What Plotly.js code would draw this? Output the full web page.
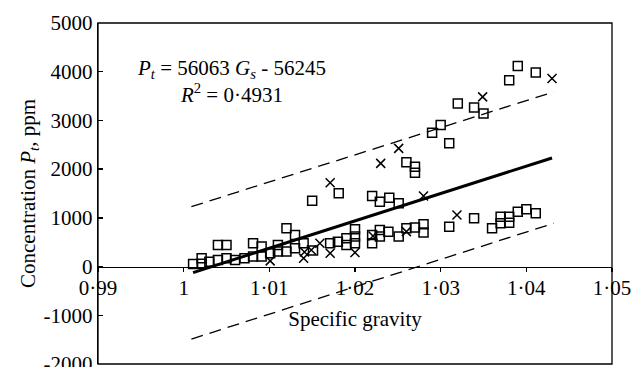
<!DOCTYPE html>
<html>
<head>
<meta charset="utf-8">
<script src="https://cdn.plot.ly/plotly-3.0.1.min.js"></script>
<style>html,body{margin:0;padding:0;background:#fff;}#chart{width:637px;height:367px;}</style>
</head>
<body>
<div id="chart"></div>
<script>
// Open squares
const squareX = [1.0011,1.0021,1.0021,1.0030,1.0040,1.0050,1.0040,1.0050,1.0060,1.0071,
  1.0081,1.0081,1.0091,1.0091,1.0101,1.0110,1.0110,1.0120,1.0120,1.0130,
  1.0130,1.0140,1.0151,1.0171,1.0180,1.0190,1.0190,1.0200,1.0200,1.0200,
  1.0220,1.0220,1.0229,1.0229,1.0239,1.0251,1.0260,1.0270,1.0280,1.0280,
  1.0310,1.0339,1.0360,1.0370,1.0370,1.0380,1.0380,1.0390,1.0400,1.0411,
  1.0150,1.0181,1.0220,1.0229,1.0240,1.0251,1.0260,1.0270,1.0270,
  1.0290,1.0300,1.0310,1.0320,1.0339,1.0350,1.0380,1.0390,1.0411];
const squareY = [55,172,60,100,445,445,137,172,137,172,
  480,205,410,205,275,445,307,787,307,650,
  377,480,330,480,512,582,445,766,615,480,
  650,480,752,615,717,615,787,800,869,697,
  820,992,787,1025,889,1025,902,1127,1176,1094,
  1352,1504,1449,1332,1414,1299,2139,2049,1926,
  2746,2904,2529,3348,3266,3143,3826,4119,3984];
// Crosses
const crossX = [1.0101,1.0140,1.0141,1.0149,1.0159,1.0171,1.0200,1.0221,1.0260,
  1.0171,1.0230,1.0251,1.0280,1.0319,1.0349,1.0430];
const crossY = [117,172,300,342,480,275,287,629,717,
  1721,2119,2426,1449,1059,3484,3861];
// Regression line and bands (end points)
const fitX = [1.0011, 1.0430];
const fitY = [-123, 2229];
const bandX = [1.0009, 1.0432];
const upperY = [1230, 3586];
const lowerY = [-1488, 889];
// Tick labels
const xTickVals = [0.99,1.00,1.01,1.02,1.03,1.04,1.05];
const xTickText = ['0·99','1','1·01','1·02','1·03','1·04','1·05'];
const yTickVals = [-2000,-1000,0,1000,2000,3000,4000,5000];
const yTickText = ['-2000','-1000','0','1000','2000','3000','4000','5000'];

const FONT = 'Liberation Serif';
const F = {family: FONT, size: 21, color: '#000'};
const traces = [
  {x: bandX, y: upperY, mode:'lines', line:{color:'#000', width:1.3, dash:'12px,7px'}, hoverinfo:'skip'},
  {x: bandX, y: lowerY, mode:'lines', line:{color:'#000', width:1.3, dash:'12px,7px'}, hoverinfo:'skip'},
  {x: fitX, y: fitY, mode:'lines', line:{color:'#000', width:3}},
  {x: squareX, y: squareY, mode:'markers', marker:{symbol:'square-open', size:9, color:'#000', line:{width:1.5, color:'#000'}}},
  {x: crossX, y: crossY, mode:'markers', marker:{symbol:'x-thin-open', size:9, color:'#000', line:{width:1.5, color:'#000'}}}
];
const layout = {
  width: 637, height: 367,
  margin: {l: 98, r: 25, t: 23, b: 3},
  showlegend: false,
  paper_bgcolor: '#fff', plot_bgcolor: '#fff',
  font: F,
  xaxis: {
    range: [0.99, 1.05], tickvals: xTickVals, ticktext: xTickText,
    anchor: 'free', position: 2/7,
    showline: true, linecolor: '#000', linewidth: 1.3,
    ticks: 'outside', ticklen: 4, tickcolor: '#000', tickwidth: 1.3,
    showgrid: false, zeroline: false, ticklabeloverflow: 'allow',
    ticklabelstandoff: -2,
    tickfont: F,
    title: {text: 'Specific gravity', font: F, standoff: 12}
  },
  yaxis: {
    range: [-2000, 5000], tickvals: yTickVals, ticktext: yTickText,
    showline: true, linecolor: '#000', linewidth: 1.3,
    ticks: 'inside', ticklen: 5, tickcolor: '#000', tickwidth: 1.3,
    showgrid: false, zeroline: false, ticklabeloverflow: 'allow',
    tickfont: F,
    title: {text: 'Concentration <i>P<sub>t</sub></i>, ppm', font: F, standoff: 2}
  },
  shapes: [{type:'rect', xref:'paper', yref:'paper', x0:0, x1:1, y0:0, y1:1, line:{color:'#000', width:1.3}}],
  annotations: [{
    xref:'paper', yref:'paper', x:0.2607, y:0.829, showarrow:false,
    align:'center', xanchor:'center', yanchor:'middle',
    text: '<i>P<sub>t</sub></i> = 56063 <i>G<sub>s</sub></i> - 56245<br><i>R</i><sup>2</sup> = 0·4931',
    font: F
  }]
};
Plotly.newPlot('chart', traces, layout, {staticPlot: true, displayModeBar: false});
</script>
</body>
</html>
